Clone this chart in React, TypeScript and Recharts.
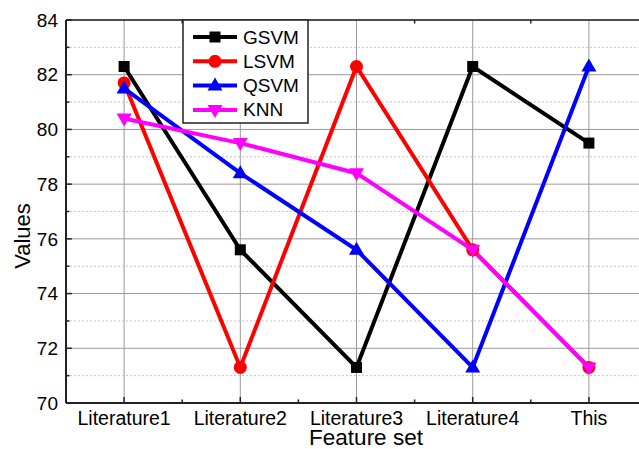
import React from 'react';
import { LineChart, Line, XAxis, YAxis, CartesianGrid, ReferenceLine } from 'recharts';

const categories = ['Literature1', 'Literature2', 'Literature3', 'Literature4', 'This'];
const gsvm = [82.3, 75.6, 71.3, 82.3, 79.5];
const lsvm = [81.7, 71.3, 82.3, 75.6, 71.3];
const qsvm = [81.5, 78.4, 75.6, 71.3, 82.3];
const knn = [80.4, 79.5, 78.4, 75.6, 71.3];

const yMajor = [70, 72, 74, 76, 78, 80, 82, 84];
const yMinor = [71, 73, 75, 77, 79, 81, 83];
const xTicks = [0, 1, 2, 3, 4];
const xMinor = [0.5, 1.5, 2.5, 3.5];

const FONT = 'Arial, "Liberation Sans", sans-serif';
const AXIS = '#222';

type Shape = 'square' | 'circle' | 'up' | 'down';

const series: { key: string; color: string; shape: Shape; values: number[] }[] = [
  { key: 'GSVM', color: '#000000', shape: 'square', values: gsvm },
  { key: 'LSVM', color: '#ff0000', shape: 'circle', values: lsvm },
  { key: 'QSVM', color: '#0000ff', shape: 'up', values: qsvm },
  { key: 'KNN', color: '#ff00ff', shape: 'down', values: knn },
];

const data = categories.map((name, i) => {
  const row: Record<string, number | string> = { x: i, name };
  series.forEach(s => { row[s.key] = s.values[i]; });
  return row;
});

const Marker = ({ shape, color, cx, cy }: { shape: Shape; color: string; cx: number; cy: number }) => {
  if (shape === 'square') return <rect x={cx - 5.5} y={cy - 5.5} width={11} height={11} fill={color} />;
  if (shape === 'circle') return <circle cx={cx} cy={cy} r={6.5} fill={color} />;
  if (shape === 'up') return <polygon points={`${cx},${cy - 8} ${cx + 7.5},${cy + 5} ${cx - 7.5},${cy + 5}`} fill={color} />;
  return <polygon points={`${cx},${cy + 8} ${cx + 7.5},${cy - 5} ${cx - 7.5},${cy - 5}`} fill={color} />;
};

const makeDot = (shape: Shape, color: string) => (props: any) => {
  const { cx, cy, index } = props;
  if (cx == null || cy == null) return <g key={`d-${index}`} />;
  return <g key={`d-${shape}-${index}`}><Marker shape={shape} color={color} cx={cx} cy={cy} /></g>;
};

const ChartLegend = () => (
  <svg width={127} height={105} style={{ position: 'absolute', left: 182, top: 19 }}>
    <rect x={1} y={1} width={125} height={103} fill="#fff" stroke={AXIS} strokeWidth={1.5} />
    {series.map((s, i) => {
      const y = 18 + i * 24.3;
      return (
        <g key={s.key}>
          <line x1={11} x2={55} y1={y} y2={y} stroke={s.color} strokeWidth={4} />
          <Marker shape={s.shape} color={s.color} cx={33} cy={y} />
          <text x={61} y={y} dominantBaseline="central" fontSize={19} fontFamily={FONT} fill="#000">{s.key}</text>
        </g>
      );
    })}
  </svg>
);

export default function App() {
  return (
    <div style={{ position: 'absolute', left: 0, top: 0, width: 639, height: 449, overflow: 'hidden', background: '#fff', fontFamily: FONT }}>
      <LineChart width={660} height={449} data={data} margin={{ top: 20, right: 13, bottom: 0, left: 0 }}>
        <CartesianGrid stroke="#999" strokeWidth={1} />
        {yMinor.map(v => (
          <ReferenceLine key={`ym-${v}`} y={v} stroke="#c4c4c4" strokeDasharray="2 2" strokeWidth={1} />
        ))}
        <ReferenceLine y={84} stroke={AXIS} strokeWidth={1.5} />
        {yMajor.map(v => (
          <ReferenceLine key={`yt-${v}`} segment={[{ x: -0.5, y: v }, { x: -0.45, y: v }]} stroke={AXIS} strokeWidth={1.5} />
        ))}
        {yMinor.map(v => (
          <ReferenceLine key={`ymt-${v}`} segment={[{ x: -0.5, y: v }, { x: -0.47, y: v }]} stroke={AXIS} strokeWidth={1.5} />
        ))}
        {xTicks.map(v => (
          <ReferenceLine key={`xt-${v}`} segment={[{ x: v, y: 70 }, { x: v, y: 70.22 }]} stroke={AXIS} strokeWidth={1.5} />
        ))}
        {xMinor.map(v => (
          <ReferenceLine key={`xmt-${v}`} segment={[{ x: v, y: 70 }, { x: v, y: 70.13 }]} stroke={AXIS} strokeWidth={1.5} />
        ))}
        {xMinor.map(v => (
          <ReferenceLine key={`xmtt-${v}`} segment={[{ x: v, y: 84 }, { x: v, y: 83.87 }]} stroke={AXIS} strokeWidth={1.5} />
        ))}
        <XAxis
          dataKey="x"
          type="number"
          domain={[-0.5, 4.5]}
          ticks={xTicks}
          interval={0}
          tickFormatter={(v: number) => categories[v]}
          height={46}
          axisLine={{ stroke: AXIS, strokeWidth: 2 }}
          tickLine={false}
          tick={{ fontSize: 19.5, fill: '#000', fontFamily: FONT }}
          label={{
            content: (p: any) => {
              const vb = p.viewBox;
              return (
                <text x={366} y={vb.y + 42} textAnchor="middle" fontSize={22.5} fontFamily={FONT} fill="#000">Feature set</text>
              );
            },
          }}
        />
        <YAxis
          type="number"
          domain={[70, 84]}
          ticks={yMajor}
          interval={0}
          width={66}
          axisLine={{ stroke: AXIS, strokeWidth: 2 }}
          tickLine={false}
          tick={{ fontSize: 19, fill: '#000', fontFamily: FONT }}
          label={{
            content: () => (
              <text x={22} y={236} transform="rotate(-90 22 236)" textAnchor="middle" dominantBaseline="central" fontSize={22} fontFamily={FONT} fill="#000">Values</text>
            ),
          }}
        />
        {series.map(s => (
          <Line
            key={s.key}
            dataKey={s.key}
            stroke={s.color}
            strokeWidth={4}
            dot={makeDot(s.shape, s.color)}
            activeDot={false}
            isAnimationActive={false}
          />
        ))}
      </LineChart>
      <ChartLegend />
    </div>
  );
}
